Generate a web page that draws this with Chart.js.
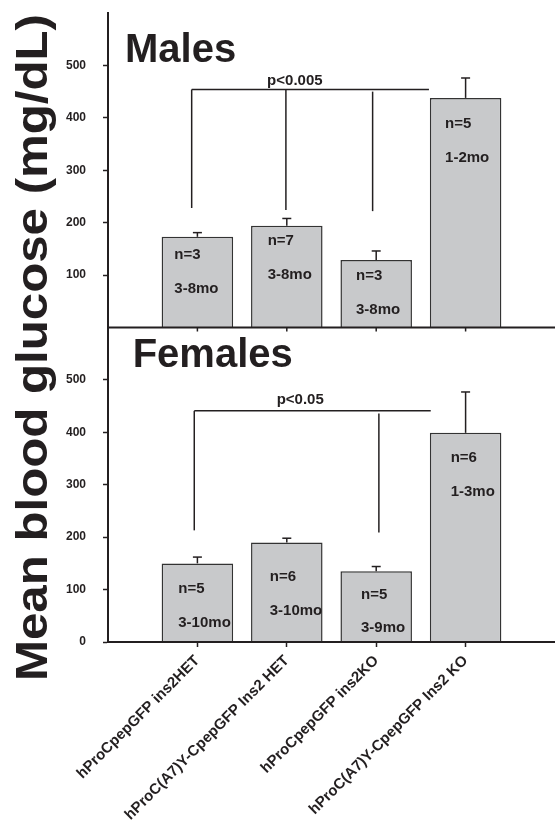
<!DOCTYPE html>
<html><head><meta charset="utf-8">
<script src="https://cdn.jsdelivr.net/npm/chart.js@4.4.0/dist/chart.umd.min.js"></script>
<style>html,body{margin:0;padding:0;background:#fff;}#wrap{width:555px;height:828px;position:relative;}</style>
</head><body><div id="wrap"><canvas id="c" width="555" height="828"></canvas></div>
<script>
// ---------- data ----------
const categories = ['hProCpepGFP ins2HET', 'hProC(A7)Y-CpepGFP Ins2 HET', 'hProCpepGFP ins2KO', 'hProC(A7)Y-CpepGFP Ins2 KO'];
const malesMean = [173, 194, 129, 438];
const malesSEM = [8, 14, 17, 38];
const femalesMean = [150, 190, 135, 399];
const femalesSEM = [12, 8, 9, 78];
const malesN = ['n=3', 'n=7', 'n=3', 'n=5'];
const malesAge = ['3-8mo', '3-8mo', '3-8mo', '1-2mo'];
const femalesN = ['n=5', 'n=6', 'n=5', 'n=6'];
const femalesAge = ['3-10mo', '3-10mo', '3-9mo', '1-3mo'];
const yTickValues = [0, 100, 200, 300, 400, 500];
const malesP = 'p<0.005';
const femalesP = 'p<0.05';
const yTitle = 'Mean blood glucose (mg/dL)';

// ---------- annotation placement (data units) ----------
const FONT = '"Liberation Sans", Arial, Helvetica, sans-serif';
const INK = '#231f20';
const panels = [
  { axis: 'yTop', title: 'Males', titleAt: [0.19, 506], mean: malesMean, sem: malesSEM, n: malesN, age: malesAge,
    labelDx: [-0.258, -0.214, -0.226, -0.23], nY: [130.5, 157, 90, 381], ageY: [65.5, 92, 25, 316],
    p: malesP, pAt: [2.09, 463], bracketY: 454, bracketX: [0.936, 3.59],
    drops: [[0.936, 454, 228], [1.99, 454, 224], [2.96, 450, 222]] },
  { axis: 'yBot', title: 'Females', titleAt: [0.276, 524], mean: femalesMean, sem: femalesSEM, n: femalesN, age: femalesAge,
    labelDx: [-0.214, -0.191, -0.17, -0.167], nY: [93.6, 115.8, 82.7, 344], ageY: [28.7, 51.6, 18.3, 279],
    p: femalesP, pAt: [2.15, 454], bracketY: 441, bracketX: [0.965, 3.61],
    drops: [[0.965, 441, 213], [3.03, 436, 209]] }
];

const labels = ['', ...categories, ''];
const pad = arr => [null, ...arr, null];

const annot = {
  id: 'annot',
  afterDatasetsDraw(chart) {
    const ctx = chart.ctx, xs = chart.scales.x, area = chart.chartArea;
    const line = (a, b, c, d) => { ctx.beginPath(); ctx.moveTo(a, b); ctx.lineTo(c, d); ctx.stroke(); };
    ctx.save();
    ctx.strokeStyle = INK; ctx.fillStyle = INK;
    panels.forEach((p, pi) => {
      const ys = chart.scales[p.axis];
      const X = v => xs.getPixelForValue(v);
      const XF = v => xs.left + (xs.right - xs.left) * v / (labels.length - 1);
      // error bars
      ctx.lineWidth = 1.5;
      p.mean.forEach((m, i) => {
        const cx = X(i + 1), y0 = ys.getPixelForValue(m), y1 = ys.getPixelForValue(m + p.sem[i]);
        line(cx, y0, cx, y1);
        line(cx - 4.5, y1, cx + 4.5, y1);
      });
      // baseline
      const by = ys.getPixelForValue(0);
      ctx.lineWidth = 2;
      line(area.left - 1, by, area.right, by);
      if (pi === 0) {
        ctx.lineWidth = 1.5;
        categories.forEach((c, i) => line(X(i + 1), by, X(i + 1), by + 4));
      }
      // significance bracket
      ctx.lineWidth = 1.5;
      line(XF(p.bracketX[0]), ys.getPixelForValue(p.bracketY), XF(p.bracketX[1]), ys.getPixelForValue(p.bracketY));
      p.drops.forEach(d => line(XF(d[0]), ys.getPixelForValue(d[1]), XF(d[0]), ys.getPixelForValue(d[2])));
      ctx.font = 'bold 15px ' + FONT;
      ctx.textAlign = 'center'; ctx.textBaseline = 'alphabetic';
      ctx.fillText(p.p, XF(p.pAt[0]), ys.getPixelForValue(p.pAt[1]));
      // n / age labels
      ctx.textAlign = 'left';
      p.n.forEach((t, i) => {
        const lx = XF(i + 1 + p.labelDx[i]);
        ctx.fillText(t, lx, ys.getPixelForValue(p.nY[i]));
        ctx.fillText(p.age[i], lx, ys.getPixelForValue(p.ageY[i]));
      });
      // panel title
      ctx.font = 'bold 40px ' + FONT;
      ctx.fillText(p.title, XF(p.titleAt[0]), ys.getPixelForValue(p.titleAt[1]));
    });
    // y title spanning both panels
    const top = chart.scales.yTop.top, bot = chart.scales.yBot.bottom;
    ctx.font = 'bold 44px ' + FONT;
    const w = ctx.measureText(yTitle).width;
    const target = 667;
    ctx.translate(46.7, (top + bot) / 2 + 20);
    ctx.rotate(-Math.PI / 2);
    ctx.scale(target / w, 1);
    ctx.textAlign = 'center'; ctx.textBaseline = 'alphabetic';
    ctx.fillText(yTitle, 0, 0);
    ctx.restore();
  }
};

const yAxis = (weight, hideZero) => ({
  type: 'linear', position: 'left', stack: 'panels', stackWeight: 1, weight: weight,
  min: 0, max: 600,
  afterBuildTicks: s => { s.ticks = yTickValues.map(v => ({ value: v })); },
  afterFit: s => { s.width = 108; s.paddingTop = 0; s.paddingBottom = 0; s.paddingLeft = 0; s.paddingRight = 0; },
  ticks: {
    padding: 17, color: INK,
    font: { family: FONT, size: 12, weight: 'bold' },
    callback: v => (hideZero && v === 0) ? '' : String(v)
  },
  grid: {
    drawOnChartArea: false, tickLength: 5, tickWidth: 1.5,
    tickColor: c => (hideZero && c.tick && c.tick.value === 0) ? 'rgba(0,0,0,0)' : INK
  },
  border: { color: INK, width: 2 }
});

new Chart(document.getElementById('c'), {
  type: 'bar',
  data: {
    labels: labels,
    datasets: [
      { label: 'Males', data: pad(malesMean), yAxisID: 'yTop', xAxisID: 'x',
        backgroundColor: '#c8c9cb', borderColor: '#333', borderWidth: 1.5,
        barPercentage: 0.8, categoryPercentage: 1, grouped: false },
      { label: 'Females', data: pad(femalesMean), yAxisID: 'yBot', xAxisID: 'x',
        backgroundColor: '#c8c9cb', borderColor: '#333', borderWidth: 1.5,
        barPercentage: 0.8, categoryPercentage: 1, grouped: false }
    ]
  },
  options: {
    responsive: false, animation: false, devicePixelRatio: 1,
    layout: { padding: { top: 13, right: 0, left: 0, bottom: 0 } },
    plugins: { legend: { display: false }, tooltip: { enabled: false }, title: { display: false } },
    scales: {
      x: {
        type: 'category', offset: false,
        afterFit: s => { s.height = 186; s.paddingTop = 0; s.paddingBottom = 0; s.paddingLeft = 0; s.paddingRight = 0; },
        grid: { offset: false, drawOnChartArea: false, tickLength: 5, tickWidth: 1.5,
          tickColor: c => (c.index === 0 || c.index === labels.length - 1) ? 'rgba(0,0,0,0)' : INK },
        border: { color: INK, width: 2 },
        ticks: { autoSkip: false, maxRotation: 45, minRotation: 45, padding: 5, color: INK,
          font: { family: FONT, size: 15, weight: 'bold' } }
      },
      yTop: yAxis(1, true),
      yBot: yAxis(0, false)
    }
  },
  plugins: [annot]
});
</script>
</body></html>
